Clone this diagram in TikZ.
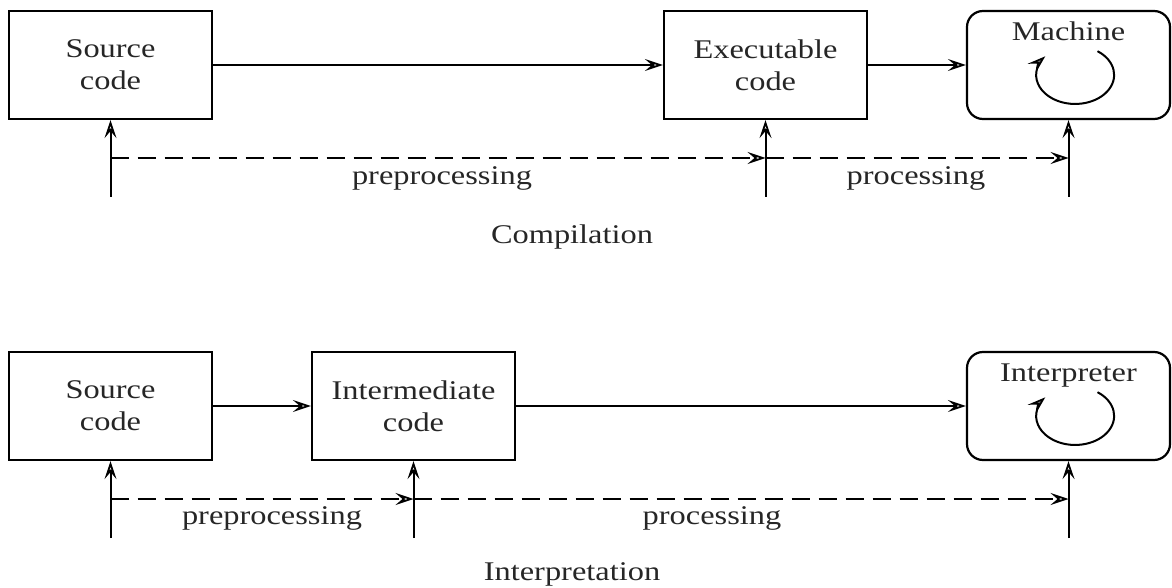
\documentclass[tikz,border=0pt]{standalone}
\usepackage{fontspec}
\setmainfont{Liberation Serif}[FakeStretch=1.2]
\usetikzlibrary{arrows.meta,calc}
\begin{document}
\begin{tikzpicture}[x=1pt,y=1pt,
  every node/.style={font=\fontsize{27}{32}\selectfont, text=black!85},
  box/.style={draw, line width=2.2pt, minimum width=203pt, minimum height=108pt, align=center, inner sep=0pt},
  rbox/.style={box, rounded corners=16pt},
  conn/.style={line width=2pt, -{Stealth[open, length=18pt, width=12pt, inset=7pt, line width=1.8pt]}},
  dconn/.style={conn, dash pattern=on 18pt off 9pt},
  lbl/.style={anchor=base, inner sep=0pt}
]
\useasboundingbox (0,0) rectangle (1172,-588);

% ---------- Compilation ----------
\node[box] (src1) at (110.5,-65) {Source\\code};
\node[box] (exec) at (765.5,-65) {Executable\\code};
\node[rbox, label={[lbl, yshift=-31pt]north:Machine}] (machine) at (1068.5,-65) {};

\draw[conn] (src1.east) -- (exec.west);
\draw[conn] (exec.east) -- (machine.west);

\coordinate (s1b) at (110.5,-197);
\coordinate (eb) at (765.5,-197);
\coordinate (mb) at (1068.5,-197);
\coordinate (d1) at (110.5,-158);
\coordinate (d2) at (765.5,-158);
\coordinate (d3) at (1068.5,-158);

\draw[conn] (s1b) -- (src1.south);
\draw[conn] (eb) -- (exec.south);
\draw[conn] (mb) -- (machine.south);
\draw[dconn] (d1) -- (d2);
\draw[dconn] (d2) -- (d3);

\draw[conn] ($(machine.center)+(29,13.8)$) arc[start angle=55, end angle=-220, x radius=39, y radius=29];

\node[lbl] (pre1) at (442,-185) {preprocessing};
\node[lbl] (proc1) at (916,-185) {processing};
\node[lbl] (comp) at (572,-243) {Compilation};

% ---------- Interpretation ----------
\node[box] (src2) at (110.5,-406) {Source\\code};
\node[box] (inter) at (413.5,-406) {Intermediate\\code};
\node[rbox, label={[lbl, yshift=-31pt]north:Interpreter}] (interp) at (1068.5,-406) {};

\draw[conn] (src2.east) -- (inter.west);
\draw[conn] (inter.east) -- (interp.west);

\coordinate (s2b) at (110.5,-538);
\coordinate (ib) at (413.5,-538);
\coordinate (pb) at (1068.5,-538);
\coordinate (e1) at (110.5,-499);
\coordinate (e2) at (413.5,-499);
\coordinate (e3) at (1068.5,-499);

\draw[conn] (s2b) -- (src2.south);
\draw[conn] (ib) -- (inter.south);
\draw[conn] (pb) -- (interp.south);
\draw[dconn] (e1) -- (e2);
\draw[dconn] (e2) -- (e3);

\draw[conn] ($(interp.center)+(29,13.8)$) arc[start angle=55, end angle=-220, x radius=39, y radius=29];

\node[lbl] (pre2) at (272,-524) {preprocessing};
\node[lbl] (proc2) at (712,-524) {processing};
\node[lbl] (interpn) at (572,-580) {Interpretation};
\end{tikzpicture}
\end{document}
